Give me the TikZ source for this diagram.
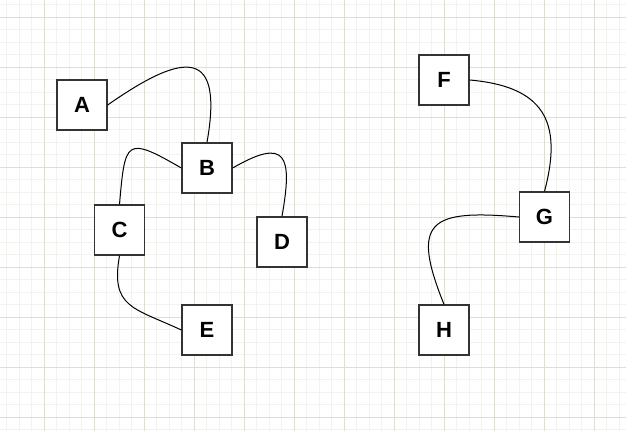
\documentclass[tikz,border=0pt]{standalone}
\usepackage{fontspec}
\setmainfont{Liberation Sans}
\usepackage{tikz}
\definecolor{gridmajor}{RGB}{222,222,210}
\definecolor{gridminor}{RGB}{242,242,238}
\definecolor{boxline}{RGB}{51,51,51}

\begin{document}
\begin{tikzpicture}[x=1pt,y=1pt,box/.style={rectangle,draw=boxline,line width=1.3pt,fill=white,minimum size=50pt,inner sep=0pt,font=\fontsize{22}{26}\selectfont\bfseries},link/.style={draw=black,line width=1pt,looseness=2.3}]
	
	\useasboundingbox (0,0) rectangle (626,-431);
	\foreach \x in {6.5,19,...,626} {
		\draw[gridminor,line width=1pt] (\x,0) -- (\x,-431);
	}
	\foreach \y in {-4.5,-17,...,-431} {
		\draw[gridminor,line width=1pt] (0,\y) -- (626,\y);
	}
	\foreach \x in {44,94,...,626} {
		\draw[gridmajor,line width=1pt] (\x,0) -- (\x,-431);
	}
	\foreach \y in {-17,-67,...,-431} {
		\draw[gridmajor,line width=1pt] (0,\y) -- (626,\y);
	}
	
	\node[box] (A) at (82,-105) {A};
	\node[box] (B) at (207,-168) {B};
	\node[box] (C) at (119.5,-230) {C};
	\node[box] (D) at (282,-242) {D};
	\node[box] (E) at (207,-330) {E};
	\node[box] (F) at (444,-80) {F};
	\node[box] (G) at (544.5,-217) {G};
	\node[box] (H) at (444,-330) {H};
	
	\draw[link] (A.east) to[out=35,in=80] (B.north);
	\draw[link] (B.west) to[out=150,in=85] (C.north);
	\draw[link] (B.east) to[out=30,in=80] (D.north);
	\draw[link,looseness=1.4] (C.south) to[out=-100,in=155] (E.west);
	\draw[link,looseness=1.4] (F.east) to[out=-5,in=75] (G.north);
	\draw[link,looseness=2] (G.west) to[out=175,in=112] (H.north);
	
	\end{tikzpicture}
\end{document}
